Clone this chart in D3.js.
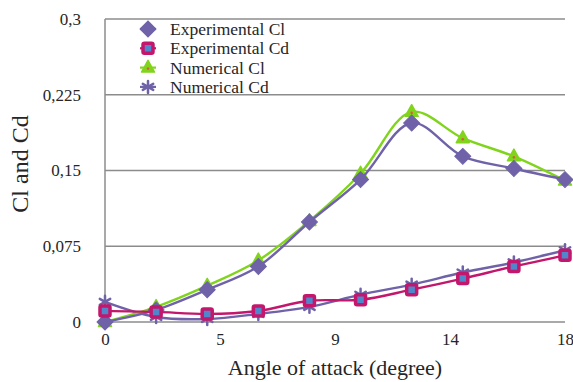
<!DOCTYPE html>
<html>
<head>
<meta charset="utf-8">
<script src="https://cdn.jsdelivr.net/npm/d3@7"></script>
<style>
  html, body { margin: 0; padding: 0; background: #fff; }
  svg { display: block; }
  text { font-family: "Liberation Serif", "Times New Roman", serif; fill: #262626; }
</style>
</head>
<body>
<svg id="chart" width="573" height="382"></svg>
<script>
// Angle of attack (degrees) and measured / computed coefficients
const angles = [0, 2, 4, 6, 8, 10, 12, 14, 16, 18];
const expCl = [0.000, 0.012, 0.032, 0.055, 0.099, 0.141, 0.197, 0.164, 0.152, 0.141];
const expCd = [0.011, 0.010, 0.008, 0.011, 0.021, 0.022, 0.032, 0.043, 0.055, 0.066];
const numCl = [0.000, 0.015, 0.036, 0.061, 0.100, 0.147, 0.208, 0.182, 0.164, 0.140];
const numCd = [0.020, 0.005, 0.003, 0.008, 0.015, 0.027, 0.037, 0.049, 0.059, 0.071];

const xTickValues = [0, 4.5, 9, 13.5, 18];
const xTickLabels = ["0", "5", "9", "14", "18"];
const yTickValues = [0, 0.075, 0.15, 0.225, 0.3];
const yTickLabels = ["0", "0,075", "0,15", "0,225", "0,3"];

const seriesNames = ["Experimental Cl", "Experimental Cd", "Numerical Cl", "Numerical Cd"];

const purple = "#6f62a8";
const green = "#80d41c";
const magenta = "#c2176c";
const blue = "#4f86cc";
const gridColor = "#8c8c8c";

const svg = d3.select("#chart");
const plot = { left: 105, right: 565, top: 19, bottom: 322 };

const x = d3.scaleLinear().domain([0, 18]).range([plot.left, plot.right]);
const y = d3.scaleLinear().domain([0, 0.3]).range([plot.bottom, plot.top]);

// Horizontal gridlines (including the zero baseline)
svg.append("g")
  .selectAll("line")
  .data(yTickValues)
  .join("line")
  .attr("x1", plot.left).attr("x2", plot.right)
  .attr("y1", d => y(d)).attr("y2", d => y(d))
  .attr("stroke", gridColor).attr("stroke-width", 1.5);

// Vertical value axis line
svg.append("line")
  .attr("x1", plot.left).attr("x2", plot.left)
  .attr("y1", y(0.3)).attr("y2", y(0))
  .attr("stroke", gridColor).attr("stroke-width", 1.5);

// Y axis labels
const yAxis = d3.axisLeft(y)
  .tickValues(yTickValues)
  .tickFormat((d, i) => yTickLabels[i])
  .tickSize(0)
  .tickPadding(24);
const gy = svg.append("g").attr("transform", `translate(${plot.left},0)`).call(yAxis);
gy.select(".domain").remove();
gy.selectAll("text").attr("font-size", 17).attr("font-family", "Liberation Serif");

// X axis labels
const xAxis = d3.axisBottom(x)
  .tickValues(xTickValues)
  .tickFormat((d, i) => xTickLabels[i])
  .tickSize(0)
  .tickPadding(11);
const gx = svg.append("g").attr("transform", `translate(0,${plot.bottom})`).call(xAxis);
gx.select(".domain").remove();
gx.selectAll("text").attr("font-size", 17).attr("font-family", "Liberation Serif");

// Axis titles
svg.append("text")
  .attr("x", 335).attr("y", 375)
  .attr("text-anchor", "middle")
  .attr("font-size", 22)
  .text("Angle of attack (degree)");

svg.append("text")
  .attr("transform", `translate(28,164) rotate(-90)`)
  .attr("text-anchor", "middle")
  .attr("font-size", 24)
  .text("Cl and Cd");

// Marker drawing helpers
function drawDiamond(g, size) {
  const s = size / Math.SQRT2;
  g.append("rect")
    .attr("x", -s / 2).attr("y", -s / 2).attr("width", s).attr("height", s)
    .attr("transform", "rotate(45)")
    .attr("fill", purple).attr("stroke", purple).attr("stroke-width", 1);
}
function drawSquare(g, size) {
  g.append("rect")
    .attr("x", -size / 2).attr("y", -size / 2).attr("width", size).attr("height", size)
    .attr("rx", 1.5)
    .attr("fill", blue).attr("stroke", magenta).attr("stroke-width", 3.5);
}
function drawTriangle(g, size) {
  const h = size * 0.9;
  g.append("path")
    .attr("d", `M0,${-h * 0.62}L${size / 2},${h * 0.38}L${-size / 2},${h * 0.38}Z`)
    .attr("fill", green).attr("stroke", green).attr("stroke-width", 1.5).attr("stroke-linejoin", "round");
  g.append("circle").attr("r", 1.3).attr("cy", 1).attr("fill", "#d8603a");
}
function drawStar(g, size) {
  const r = size / 2;
  const angs = [90, 30, -30];
  angs.forEach(a => {
    const rad = a * Math.PI / 180;
    g.append("line")
      .attr("x1", -r * Math.cos(rad)).attr("y1", -r * Math.sin(rad))
      .attr("x2", r * Math.cos(rad)).attr("y2", r * Math.sin(rad))
      .attr("stroke", purple).attr("stroke-width", 2.5).attr("stroke-linecap", "round");
  });
}

const series = [
  { name: seriesNames[3], values: numCd, color: purple, marker: drawStar, size: 12 },
  { name: seriesNames[2], values: numCl, color: green, marker: drawTriangle, size: 13 },
  { name: seriesNames[0], values: expCl, color: purple, marker: drawDiamond, size: 16 },
  { name: seriesNames[1], values: expCd, color: magenta, marker: drawSquare, size: 10 }
];

const line = d3.line()
  .x((d, i) => x(angles[i]))
  .y(d => y(d))
  .curve(d3.curveCatmullRom.alpha(0.5));

series.forEach(s => {
  const g = svg.append("g");
  g.append("path")
    .datum(s.values)
    .attr("d", line)
    .attr("fill", "none")
    .attr("stroke", s.color)
    .attr("stroke-width", 2.4);
  g.selectAll("g.pt")
    .data(s.values)
    .join("g")
    .attr("class", "pt")
    .attr("transform", (d, i) => `translate(${x(angles[i])},${y(d)})`)
    .each(function () { s.marker(d3.select(this), s.size); });
});

// Legend
const legendItems = [
  { name: seriesNames[0], color: purple, marker: drawDiamond, size: 16 },
  { name: seriesNames[1], color: magenta, marker: drawSquare, size: 10 },
  { name: seriesNames[2], color: green, marker: drawTriangle, size: 13 },
  { name: seriesNames[3], color: purple, marker: drawStar, size: 12 }
];
const legend = svg.append("g").attr("transform", "translate(148,29)");
legendItems.forEach((item, i) => {
  const row = legend.append("g").attr("transform", `translate(0,${i * 19.3})`);
  row.append("line").attr("x1", -8).attr("x2", 8)
    .attr("stroke", item.color).attr("stroke-width", 2.2);
  const m = row.append("g");
  item.marker(m, item.size);
  row.append("text")
    .attr("x", 22).attr("y", 6)
    .attr("font-size", 17.5)
    .text(item.name);
});
</script>
</body>
</html>
